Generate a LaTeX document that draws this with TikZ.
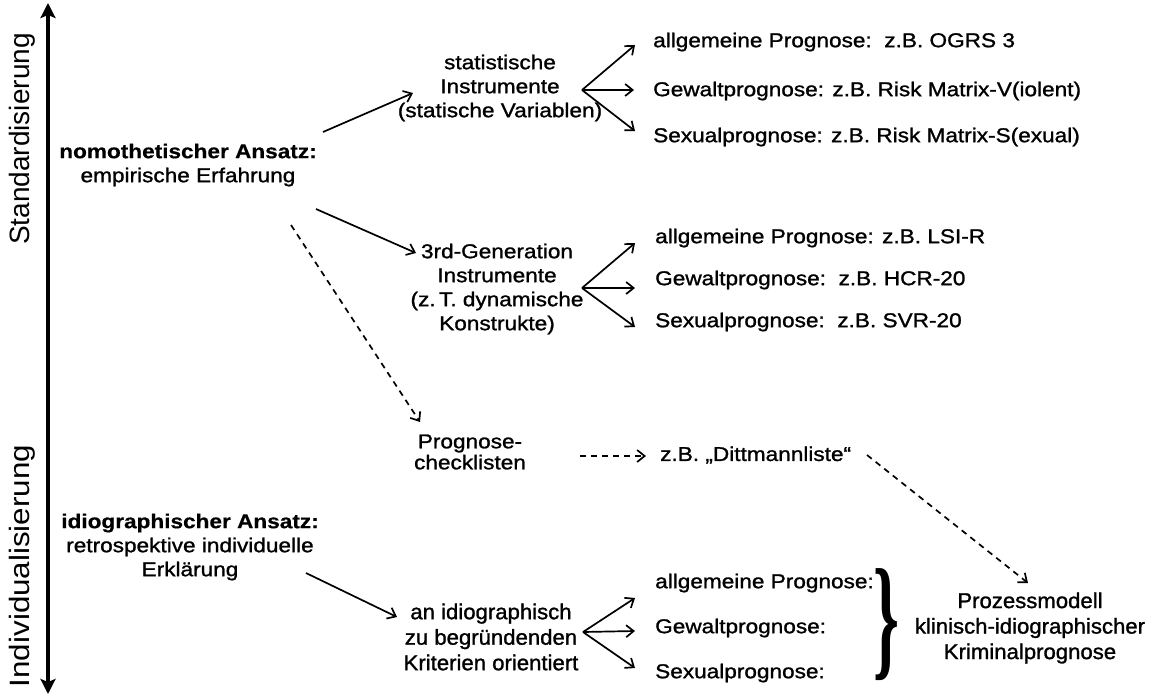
\documentclass[tikz,border=0pt]{standalone}
\usepackage{fontspec}
\setmainfont{Liberation Sans}
\newfontfamily\mainf[FakeStretch=1.13,FakeBold=1.2,BoldFeatures={FakeBold=0.5}]{Liberation Sans}
\newfontfamily\narf[FakeStretch=1.03,FakeBold=1.2]{Liberation Sans}
\newfontfamily\vertf[FakeStretch=1.12]{Liberation Sans}
\newfontfamily\serifb{Liberation Serif}
\usetikzlibrary{arrows.meta}
\tikzset{
  txt/.style={font=\mainf\fontsize{20}{24}\selectfont, inner sep=0pt, align=center},
  ntxt/.style={font=\narf\fontsize{21.5}{25.5}\selectfont, inner sep=0pt, align=center},
  lbl/.style={font=\mainf\fontsize{20}{24}\selectfont, inner sep=0pt, anchor=west},
  vlbl/.style={font=\fontsize{28}{30}\selectfont, inner sep=0pt, rotate=90},
  arr/.style={-{Straight Barb[length=7.5pt,width=12pt]}, line width=1.7pt},
  darr/.style={arr, dash pattern=on 6pt off 5pt},
  axis/.style={line width=3.6pt, {Stealth[length=15pt,width=15pt,inset=3pt]}-{Stealth[length=15pt,width=15pt,inset=3pt]}},
}
\begin{document}
\begin{tikzpicture}[x=1pt,y=-1pt]
\useasboundingbox[fill=white] (0,0) rectangle (1153,697);
% axis
\coordinate (axtop) at (48,3);
\coordinate (axbot) at (48,694);
\draw[axis] (axbot) -- (axtop);
\node[vlbl] (std) at (22,139) {Standardisierung};
\node[vlbl, font=\vertf\fontsize{28}{30}\selectfont] (ind) at (22,566) {Individualisierung};
% nodes
\node[txt] (nomo) at (188,165) {\textbf{nomothetischer Ansatz:}\\empirische Erfahrung};
\node[txt] (stat) at (500,88) {statistische\\Instrumente\\(statische Variablen)};
\node[lbl] (s1) at (653,42) {allgemeine Prognose:\ \ z.B. OGRS 3};
\node[lbl] (s2) at (653,91) {Gewaltprognose: z.B. Risk Matrix-V(iolent)};
\node[lbl] (s3) at (653,137) {Sexualprognose: z.B. Risk Matrix-S(exual)};
\node[txt] (gen) at (497,289) {3rd-Generation\\Instrumente\\(z.\,T. dynamische\\Konstrukte)};
\node[lbl] (g1) at (655,238) {allgemeine Prognose: z.B. LSI-R};
\node[lbl] (g2) at (655,280) {Gewaltprognose:\ \ z.B. HCR-20};
\node[lbl] (g3) at (655,322) {Sexualprognose:\ \ z.B. SVR-20};
\node[txt, font=\mainf\fontsize{20}{21}\selectfont] (chk) at (470,452) {Prognose-\\checklisten};
\node[lbl] (dit) at (660,455) {z.B. „Dittmannliste“};
\node[txt] (idio) at (190,547) {\textbf{idiographischer Ansatz:}\\retrospektive individuelle\\Erklärung};
\node[ntxt] (crit) at (491,637) {an idiographisch\\zu begründenden\\Kriterien orientiert};
\node[lbl] (k1) at (655,583) {allgemeine Prognose:};
\node[lbl] (k2) at (655,628) {Gewaltprognose:};
\node[lbl] (k3) at (655,673) {Sexualprognose:};
\node[inner sep=0pt] (br) at (886,625) {\resizebox*{26pt}{112pt}{\serifb\bfseries\}}};
\node[ntxt] (proz) at (1030,628) {Prozessmodell\\klinisch-idiographischer\\Kriminalprognose};
% coordinates for arrow ends
\coordinate (nomoS) at (323,132);
\coordinate (statE) at (413,93);
\coordinate (nomoG) at (316,209);
\coordinate (genE) at (416,253);
\coordinate (nomoD) at (291,225);
\coordinate (chkE) at (420,422);
\coordinate (sf) at (582,90);
\coordinate (sf1) at (635,45);
\coordinate (sf2) at (634,90);
\coordinate (sf3) at (635,131);
\coordinate (gf) at (582,288);
\coordinate (gf1) at (635,243);
\coordinate (gf2) at (635,288);
\coordinate (gf3) at (635,327);
\coordinate (chkS) at (580,456);
\coordinate (ditE) at (646,456);
\coordinate (ditS) at (867,455);
\coordinate (prozE) at (1028,583);
\coordinate (idioS) at (306,573);
\coordinate (critE) at (397,617);
\coordinate (cf) at (583,632);
\coordinate (cf1) at (635,598);
\coordinate (cf2) at (635,631);
\coordinate (cf3) at (635,668);
% connectors
\draw[arr] (nomoS) -- (statE);
\draw[arr] (sf) -- (sf1);
\draw[arr] (sf) -- (sf2);
\draw[arr] (sf) -- (sf3);
\draw[arr] (nomoG) -- (genE);
\draw[arr] (gf) -- (gf1);
\draw[arr] (gf) -- (gf2);
\draw[arr] (gf) -- (gf3);
\draw[darr] (nomoD) -- (chkE);
\draw[darr] (chkS) -- (ditE);
\draw[darr] (ditS) -- (prozE);
\draw[arr] (idioS) -- (critE);
\draw[arr] (cf) -- (cf1);
\draw[arr] (cf) -- (cf2);
\draw[arr] (cf) -- (cf3);
\end{tikzpicture}
\end{document}
